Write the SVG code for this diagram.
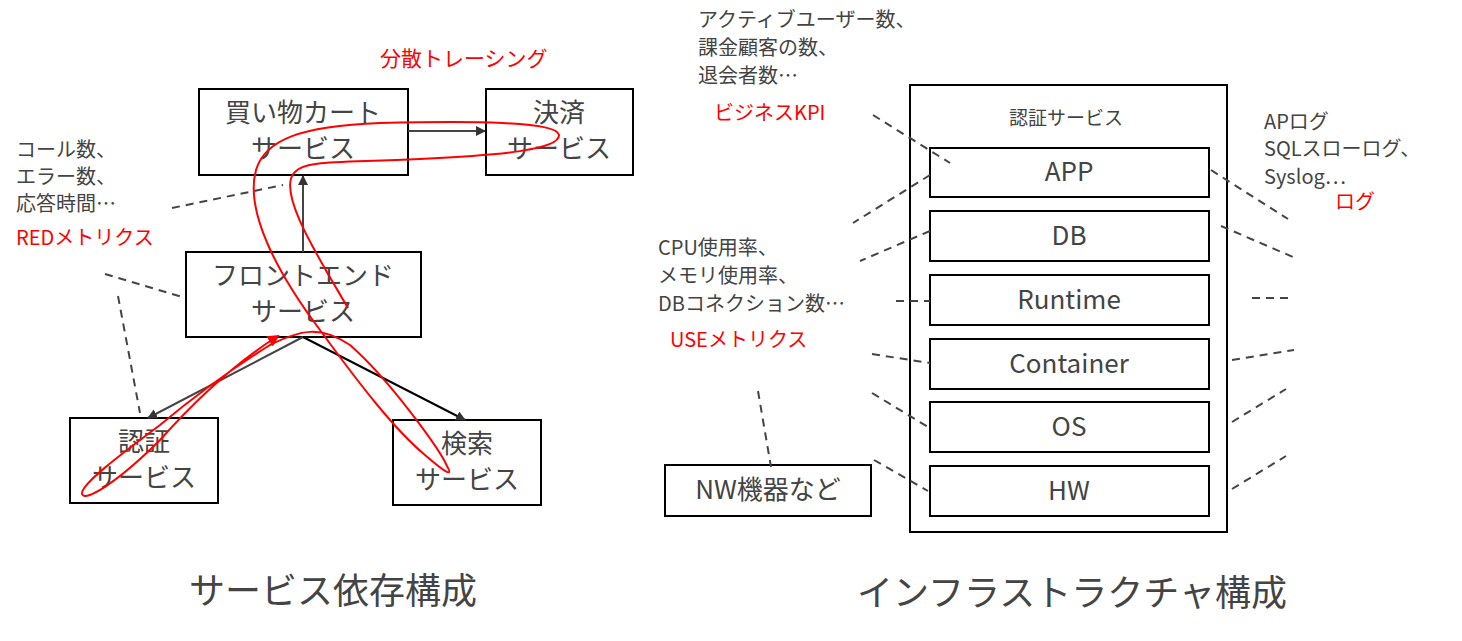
<svg xmlns="http://www.w3.org/2000/svg" width="1462" height="641" viewBox="0 0 1462 641">
<style>
text{font-family:"Noto Sans CJK JP","Noto Sans",sans-serif;fill:#444}
.r{fill:#f00}
.b{fill:#fff;stroke:#000;stroke-width:2}
.bt{font-size:26px;text-anchor:middle}
.s{font-size:20px}
.d{stroke:#444;stroke-width:2;stroke-dasharray:8 6;fill:none}
.a{stroke:#444;stroke-width:2;fill:none;marker-end:url(#ah)}
.t{font-size:36px;text-anchor:middle}
</style>
<defs>
<marker id="ah" markerWidth="10" markerHeight="10" refX="9" refY="5" orient="auto" markerUnits="userSpaceOnUse"><path d="M0,0L10,5L0,10z" fill="#333"/></marker>
<marker id="rh" markerWidth="12" markerHeight="12" refX="10" refY="6" orient="auto" markerUnits="userSpaceOnUse"><path d="M0,0L12,6L0,12z" fill="#f00"/></marker>
</defs>
<rect width="1462" height="641" fill="#fff"/>
<g id="cart"><rect class="b" x="199" y="89" width="209" height="86"/><text class="bt" x="303" y="122">買い物カート</text><text class="bt" x="303" y="158">サービス</text></g>
<g id="payment"><rect class="b" x="486" y="89" width="147" height="86"/><text class="bt" x="559" y="122">決済</text><text class="bt" x="559" y="158">サービス</text></g>
<g id="frontend"><rect class="b" x="186" y="252" width="235" height="85"/><text class="bt" x="303" y="285">フロントエンド</text><text class="bt" x="303" y="321">サービス</text></g>
<g id="auth"><rect class="b" x="70" y="418" width="148" height="85"/><text class="bt" x="144" y="451">認証</text><text class="bt" x="144" y="487">サービス</text></g>
<g id="search"><rect class="b" x="393" y="420" width="148" height="85"/><text class="bt" x="467" y="453">検索</text><text class="bt" x="467" y="489">サービス</text></g>
<g id="infra"><rect class="b" x="910" y="85" width="317" height="447"/><text x="1066" y="125" style="font-size:19px;text-anchor:middle">認証サービス</text></g>
<g id="app"><rect class="b" x="930" y="148" width="279" height="49"/><text class="bt" x="1069" y="181">APP</text></g>
<g id="db"><rect class="b" x="930" y="211" width="279" height="50"/><text class="bt" x="1069" y="245">DB</text></g>
<g id="runtime"><rect class="b" x="930" y="275" width="279" height="50"/><text class="bt" x="1069" y="309">Runtime</text></g>
<g id="container"><rect class="b" x="930" y="339" width="279" height="50"/><text class="bt" x="1069" y="373">Container</text></g>
<g id="os"><rect class="b" x="930" y="402" width="279" height="50"/><text class="bt" x="1069" y="436">OS</text></g>
<g id="hw"><rect class="b" x="930" y="466" width="279" height="50"/><text class="bt" x="1069" y="500">HW</text></g>
<g id="nw"><rect class="b" x="665" y="465" width="206" height="51"/><text class="bt" x="768" y="499">NW機器など</text></g>
<g id="labels">
<text class="s" x="16" y="157">コール数、</text><text class="s" x="16" y="184">エラー数、</text><text class="s" x="16" y="211">応答時間…</text>
<text class="s r" x="16" y="245">REDメトリクス</text>
<text class="r" x="380" y="66" style="font-size:21px">分散トレーシング</text>
<text class="s" x="698" y="27">アクティブユーザー数、</text><text class="s" x="698" y="55">課金顧客の数、</text><text class="s" x="698" y="83">退会者数…</text>
<text class="s r" x="714" y="120">ビジネスKPI</text>
<text class="s" x="658" y="255">CPU使用率、</text><text class="s" x="658" y="283">メモリ使用率、</text><text class="s" x="658" y="311">DBコネクション数…</text>
<text class="s r" x="670" y="347">USEメトリクス</text>
<text class="s" x="1264" y="129">APログ</text><text class="s" x="1264" y="156">SQLスローログ、</text><text class="s" x="1264" y="184">Syslog…</text>
<text class="s r" x="1335" y="209">ログ</text>
<text class="t" x="333" y="604">サービス依存構成</text>
<text class="t" x="1072" y="606">インフラストラクチャ構成</text>
</g>
<g id="connectors">
<line class="a" x1="408" y1="131" x2="485" y2="131"/>
<line class="a" x1="303" y1="252" x2="303" y2="176"/>
<line class="a" x1="303" y1="337" x2="148" y2="418"/>
<line x1="303" y1="337" x2="465" y2="420" stroke="#000" stroke-width="2" marker-end="url(#ah)"/>
<line class="d" x1="172" y1="208" x2="283" y2="185"/>
<line class="d" x1="105" y1="274" x2="182" y2="297"/>
<line class="d" x1="118" y1="296" x2="140" y2="413"/>
<line class="d" x1="873" y1="115" x2="950" y2="163"/>
<line class="d" x1="930" y1="175" x2="853" y2="223"/>
<line class="d" x1="930" y1="231" x2="860" y2="261"/>
<line class="d" x1="896" y1="301" x2="930" y2="301"/>
<line class="d" x1="872" y1="354" x2="930" y2="363"/>
<line class="d" x1="872" y1="393" x2="928" y2="427"/>
<line class="d" x1="874" y1="460" x2="928" y2="491"/>
<line class="d" x1="758" y1="391" x2="771" y2="467"/>
<line class="d" x1="1211" y1="170" x2="1288" y2="219"/>
<line class="d" x1="1221" y1="226" x2="1293" y2="257"/>
<line class="d" x1="1252" y1="298" x2="1288" y2="298"/>
<line class="d" x1="1232" y1="360" x2="1294" y2="350"/>
<line class="d" x1="1232" y1="422" x2="1286" y2="389"/>
<line class="d" x1="1232" y1="489" x2="1286" y2="456"/>
<path d="M348,308 C320,260 275,190 295,172 C305,160 340,163 420,159 C500,155 560,150 559,135 C557,121 470,121 380,123 C300,126 265,140 256,170 C245,210 275,270 320,330 C360,385 395,430 425,455 C440,468 455,480 447,466 C440,450 390,380 350,345 C320,325 300,330 270,345 C230,370 190,400 160,425 C120,455 80,485 82,494 C85,503 120,480 160,440 C200,395 240,360 278,336" fill="none" stroke="#f00" stroke-width="2" marker-end="url(#rh)"/>
</g>
</svg>
